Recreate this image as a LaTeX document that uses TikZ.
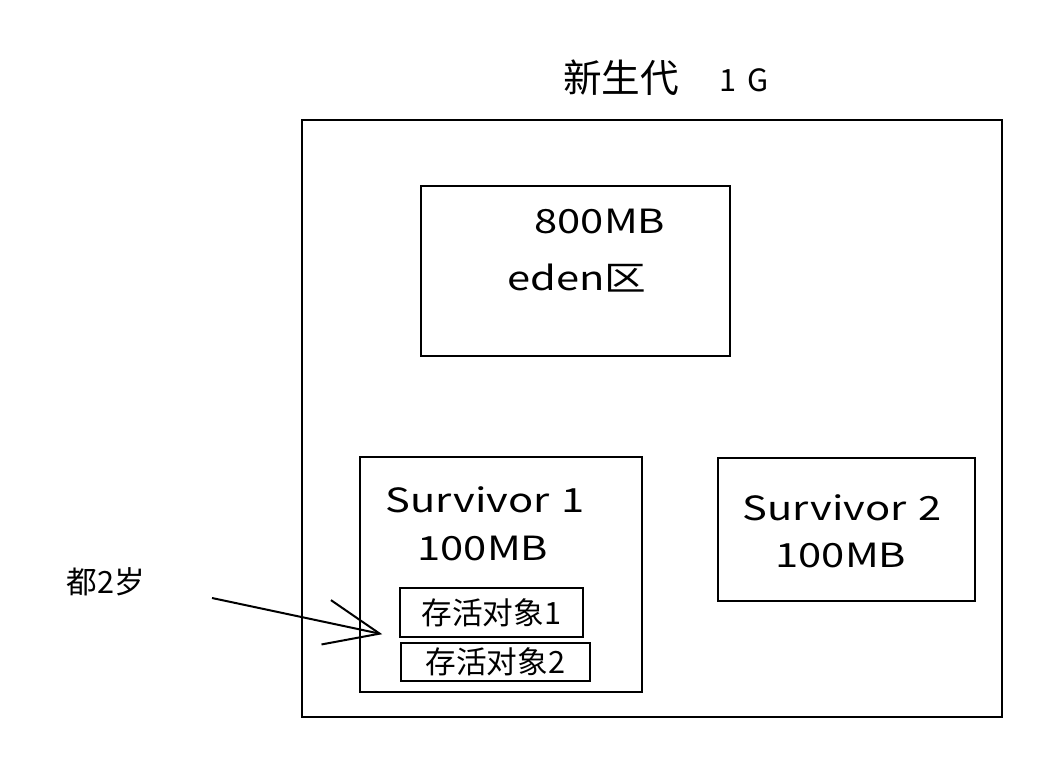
\documentclass[tikz,border=0pt]{standalone}
\usepackage{fontspec}
\setmainfont{Noto Sans CJK SC}
\usetikzlibrary{arrows.meta,positioning}
\tikzset{
  area/.style ={draw=black,line width=1.5pt,inner sep=0pt},
  objbox/.style={draw=black,line width=1.2pt,inner sep=0pt},
  big/.style  ={font=\fontsize{29}{30}\selectfont,inner sep=0pt},
  txt/.style  ={font=\fontsize{25}{26}\selectfont\addfontfeature{FakeStretch=1.25},inner sep=0pt},
  small/.style={font=\fontsize{23}{24}\selectfont,inner sep=0pt},
  ptr/.style  ={-{Straight Barb[length=41pt,width=34pt]},line width=1.5pt},
}
\begin{document}
\begin{tikzpicture}[x=0.75pt, y=-0.75pt]
\useasboundingbox (0,0) rectangle (1056,780);

% ===== young generation ====================================================
\node[big] (title) at (621,78) {新生代};
\node[small] (gsize) at (744,80) {1\,\,G};
\node[area,minimum width=525pt,minimum height=447.75pt] (young) at (652,418.5) {};

% ===== eden ================================================================
\node[area,minimum width=231.75pt,minimum height=127.5pt] (eden) at (575.5,271) {};
\node[txt] (edenSize) at (600,222) {800MB};
\node[txt] (edenName) at (577,278) {eden区};

% ===== survivor spaces =====================================================
\node[area,minimum width=211.5pt,minimum height=176.25pt] (surv1) at (501,574.5) {};
\node[txt] (surv1Name) at (485,500) {Survivor\hspace{0.35em}1};
\node[txt] (surv1Size) at (483,548) {100MB};
\node[area,minimum width=192.75pt,minimum height=107.25pt] (surv2) at (846.5,529.5) {};
\node[txt] (surv2Name) at (842,508) {Survivor\hspace{0.35em}2};
\node[txt] (surv2Size) at (841,555) {100MB};

% live objects inside survivor 1
\node[objbox,minimum width=137.25pt,minimum height=36.75pt] (obj1) at (491.5,612.5) {};
\node[small] at (obj1) {存活对象1};
\node[objbox,minimum width=141.75pt,minimum height=28.5pt] (obj2) at (495.5,662) {};
\node[small] at (obj2) {存活对象2};

% ===== age note ============================================================
\node[small] (age) at (106,582) {都2岁};
\coordinate (from) at (212,598);
\draw[ptr,shorten >=13pt] (from) -- (obj1.south west);
\end{tikzpicture}
\end{document}
